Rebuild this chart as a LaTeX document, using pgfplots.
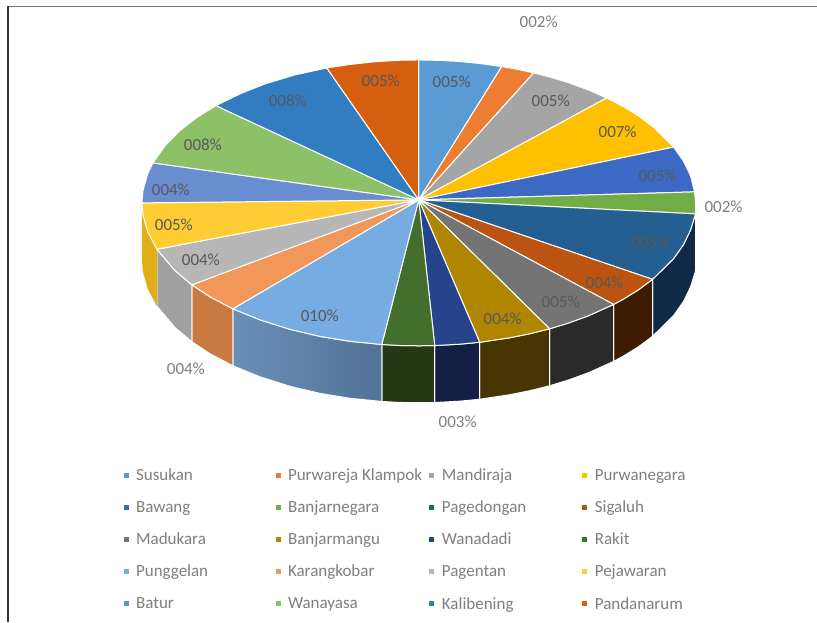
\documentclass[border=0pt]{standalone}
\usepackage{fontspec}
\setmainfont{Carlito}
\usepackage{pgfplots}
\pgfplotsset{compat=1.18}
\definecolor{txt}{HTML}{595959}
\definecolor{lg}{HTML}{7F7F7F}
\newcommand{\lab}[3]{\node[text=#3,font=\fontsize{17pt}{19pt}\selectfont] at (axis cs:#1) {#2};}
\newcommand{\ea}[1]{\makebox[143pt][l]{\hspace{5.5pt}#1}}
\newcommand{\eb}[1]{\makebox[145pt][l]{\hspace{5.5pt}#1}}
\newcommand{\ec}[1]{\makebox[144pt][l]{\hspace{5.5pt}#1}}
\newcommand{\ed}[1]{\makebox[100pt][l]{\hspace{5.5pt}#1}}
\begin{document}
\begin{tikzpicture}
\begin{axis}[
  scale only axis, width=817pt, height=622pt, hide axis,
  xmin=0, xmax=817, ymin=0, ymax=622, y dir=reverse, enlargelimits=false, clip=false,
  legend columns=4,
  legend image code/.code={\fill[#1,draw=none] (0pt,-2.5pt) rectangle (5pt,2.5pt);},
  legend style={draw=none, fill=none, at={(axis cs:123.5,467)}, anchor=north west,
    font=\fontsize{17pt}{19pt}\selectfont, text=lg, row sep=14.8pt, inner sep=0pt,
    /tikz/every even column/.style={column sep=0pt}},
  faceline/.style={draw=white, line width=1pt, line join=round},
]
% canvas and frame
\addplot[forget plot, fill=white, draw=none] coordinates {(0,0) (817,0) (817,622) (0,622) (0,0)};
\addplot[forget plot, draw=black!55, line width=1pt] coordinates {(8,6.5) (817,6.5)};
\addplot[forget plot, draw=black!80, line width=1.5pt] coordinates {(8,6) (8,622)};
% side faces
\addplot[forget plot, faceline, fill={rgb,255:red,15;green,41;blue,71}] coordinates {(696,214) (691,230) (684,244.6) (674,258.8) (653,279.5) (653,336.5) (674,315.8) (684,301.6) (691,287) (696,271) (696,214)};
\addplot[forget plot, faceline, fill={rgb,255:red,61;green,28;blue,2}] coordinates {(653,279.5) (639,289.9) (624,299.2) (614,304.6) (614,361.6) (624,356.2) (639,346.9) (653,336.5) (653,279.5)};
\addplot[forget plot, faceline, fill={rgb,255:red,42;green,42;blue,42}] coordinates {(614,304.6) (589,315.9) (569,323.2) (550,329) (550,386) (569,380.2) (589,372.9) (614,361.6) (614,304.6)};
\addplot[forget plot, faceline, fill={rgb,255:red,72;green,54;blue,2}] coordinates {(550,329) (530,334) (510,338) (480,342.5) (480,399.5) (510,395) (530,391) (550,386) (550,329)};
\addplot[forget plot, faceline, fill={rgb,255:red,19;green,32;blue,68}] coordinates {(480,342.5) (460,344.4) (435,345.8) (435,402.8) (460,401.4) (480,399.5) (480,342.5)};
\addplot[forget plot, faceline, fill={rgb,255:red,36;green,56;blue,20}] coordinates {(435,345.8) (419,346) (400,345.7) (382,344.7) (382,401.7) (400,402.7) (419,403) (435,402.8) (435,345.8)};
\addplot[forget plot, faceline, left color={rgb,255:red,106;green,144;blue,184}, right color={rgb,255:red,82;green,114;blue,150}] coordinates {(382,344.7) (350,341.5) (320,336.6) (290,329.5) (260,320) (233,309) (233,366) (260,377) (290,386.5) (320,393.6) (350,398.5) (382,401.7) (382,344.7)};
\addplot[forget plot, faceline, fill={rgb,255:red,200;green,122;blue,64}] coordinates {(233,309) (210,296.9) (192,285) (192,342) (210,353.9) (233,366) (233,309)};
\addplot[forget plot, faceline, fill={rgb,255:red,160;green,160;blue,160}] coordinates {(192,285) (175,270.7) (157,249.4) (157,306.4) (175,327.7) (192,342) (192,285)};
\addplot[forget plot, draw=none, fill={rgb,255:red,226;green,174;blue,22}] coordinates {(157,249.4) (148,232.6) (143,215) (142,203) (142,260) (143,272) (148,289.6) (157,306.4) (157,249.4)};
% top faces
\addplot[faceline, fill={rgb,255:red,91;green,155;blue,213}] coordinates {(419,200) (419,60) (439,60.4) (459,61.5) (479,63.4) (502,66.6) (419,200)};
\addplot[faceline, fill={rgb,255:red,237;green,125;blue,49}] coordinates {(419,200) (502,66.6) (519,69.6) (534,73) (419,200)};
\addplot[faceline, fill={rgb,255:red,165;green,165;blue,165}] coordinates {(419,200) (534,73) (549,76.7) (569,82.8) (589,90.1) (607,98) (419,200)};
\addplot[faceline, fill={rgb,255:red,255;green,192;blue,0}] coordinates {(419,200) (607,98) (624,106.8) (639,116.1) (654,127.3) (674,147.2) (419,200)};
\addplot[faceline, fill={rgb,255:red,60;green,105;blue,195}] coordinates {(419,200) (674,147.2) (684,161.4) (691,176) (695,192) (419,200)};
\addplot[faceline, fill={rgb,255:red,112;green,173;blue,71}] coordinates {(419,200) (695,192) (696,203) (696,214) (419,200)};
\addplot[faceline, fill={rgb,255:red,37;green,94;blue,145}] coordinates {(419,200) (696,214) (691,230) (684,244.6) (674,258.8) (653,279.5) (419,200)};
\addplot[faceline, fill={rgb,255:red,186;green,84;blue,16}] coordinates {(419,200) (653,279.5) (639,289.9) (624,299.2) (614,304.6) (419,200)};
\addplot[faceline, fill={rgb,255:red,116;green,116;blue,116}] coordinates {(419,200) (614,304.6) (589,315.9) (569,323.2) (550,329) (419,200)};
\addplot[faceline, fill={rgb,255:red,176;green,134;blue,0}] coordinates {(419,200) (550,329) (530,334) (510,338) (480,342.5) (419,200)};
\addplot[faceline, fill={rgb,255:red,38;green,68;blue,140}] coordinates {(419,200) (480,342.5) (460,344.4) (435,345.8) (419,200)};
\addplot[faceline, fill={rgb,255:red,67;green,110;blue,43}] coordinates {(419,200) (435,345.8) (419,346) (400,345.7) (382,344.7) (419,200)};
\addplot[faceline, fill={rgb,255:red,118;green,172;blue,225}] coordinates {(419,200) (382,344.7) (350,341.5) (320,336.6) (290,329.5) (260,320) (233,309) (419,200)};
\addplot[faceline, fill={rgb,255:red,241;green,151;blue,90}] coordinates {(419,200) (233,309) (210,296.9) (192,285) (419,200)};
\addplot[faceline, fill={rgb,255:red,183;green,183;blue,183}] coordinates {(419,200) (192,285) (175,270.7) (157,249.4) (419,200)};
\addplot[faceline, fill={rgb,255:red,255;green,205;blue,51}] coordinates {(419,200) (157,249.4) (148,232.6) (143,215) (142,203) (419,200)};
\addplot[faceline, fill={rgb,255:red,105;green,142;blue,208}] coordinates {(419,200) (142,203) (143,191) (148,173.4) (153,163) (419,200)};
\addplot[faceline, fill={rgb,255:red,140;green,193;blue,104}] coordinates {(419,200) (153,163) (165,146) (180,130.7) (197,117.5) (216,105.7) (419,200)};
\addplot[faceline, fill={rgb,255:red,50;green,125;blue,194}] coordinates {(419,200) (216,105.7) (240,94) (265,84) (295,75) (327,68) (419,200)};
\addplot[faceline, fill={rgb,255:red,213;green,95;blue,15}] coordinates {(419,200) (327,68) (350,64.5) (375,61.8) (400,60.3) (419,60) (419,200)};
% data labels
\lab{452,82}{005\%}{txt}
\lab{539,22}{002\%}{lg}
\lab{551,101}{005\%}{txt}
\lab{618,132}{007\%}{txt}
\lab{658,176}{005\%}{txt}
\lab{724,207}{002\%}{lg}
\lab{651,243}{005\%}{txt}
\lab{605,283}{004\%}{txt}
\lab{561,302}{005\%}{txt}
\lab{503,319}{004\%}{txt}
\lab{458,422}{003\%}{lg}
\lab{320,316}{010\%}{txt}
\lab{186,369}{004\%}{lg}
\lab{201,260}{004\%}{txt}
\lab{174,225}{005\%}{txt}
\lab{171,190}{004\%}{txt}
\lab{203,145}{008\%}{txt}
\lab{288,101}{008\%}{txt}
\lab{381,81}{005\%}{txt}
\legend{\ea{Susukan},\eb{Purwareja Klampok},\ec{Mandiraja},\ed{Purwanegara},
\ea{Bawang},\eb{Banjarnegara},\ec{Pagedongan},\ed{Sigaluh},
\ea{Madukara},\eb{Banjarmangu},\ec{Wanadadi},\ed{Rakit},
\ea{Punggelan},\eb{Karangkobar},\ec{Pagentan},\ed{Pejawaran},
\ea{Batur},\eb{Wanayasa},\ec{Kalibening},\ed{Pandanarum}}
\end{axis}
\end{tikzpicture}
\end{document}
